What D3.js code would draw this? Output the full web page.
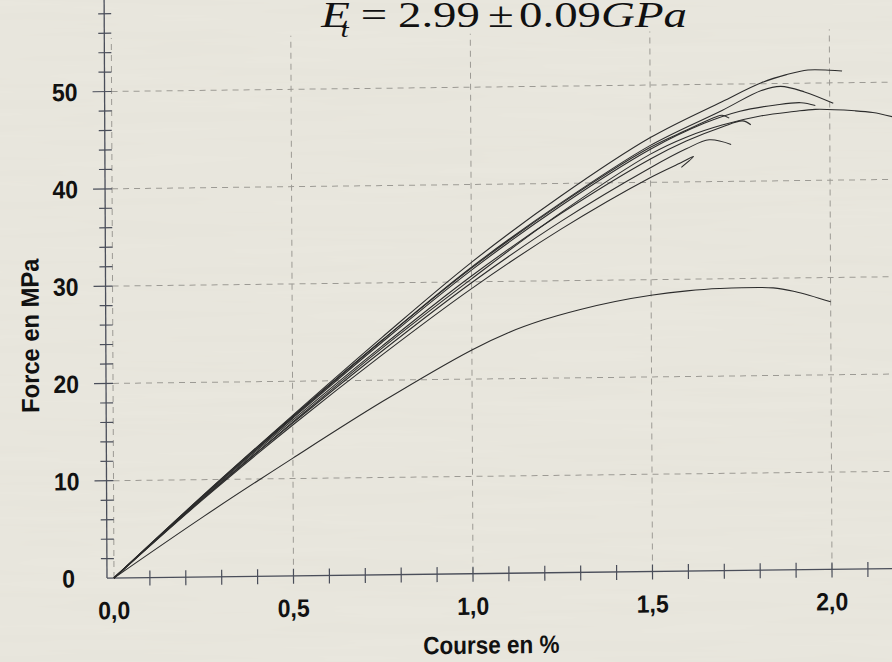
<!DOCTYPE html>
<html>
<head>
<meta charset="utf-8">
<script src="https://cdn.jsdelivr.net/npm/d3@7/dist/d3.min.js"></script>
<style>
  html, body { margin: 0; padding: 0; background: #e8e6dc; }
  svg { display: block; }
  .lbl { font-family: "Liberation Sans", Arial, sans-serif; font-weight: bold; fill: #111; }
</style>
</head>
<body>
<svg id="chart" width="892" height="662"></svg>
<script>
// Tensile test curves: stress (MPa) against strain (%), one array per specimen
const curveA = [[0,0],[0.25,8.4],[0.5,16.5],[0.75,24.4],[1.0,32.0],[1.25,38.7],[1.5,44.6],[1.7,48.2],[1.81,50.1],[1.88,50.9],[1.94,51.35],[2.0,51.3],[2.035,51.2]];
const curveB = [[0,0],[0.25,8.3],[0.5,16.3],[0.75,24.1],[1.0,31.5],[1.25,38.0],[1.5,43.8],[1.7,47.3],[1.81,49.3],[1.864,49.7],[1.93,49.1],[2.01,47.9]];
const curveC = [[0,0],[0.25,8.3],[0.5,16.2],[0.75,23.9],[1.0,31.2],[1.25,37.7],[1.5,43.4],[1.65,46.0],[1.75,47.2],[1.85,47.8],[1.92,48.0],[1.96,47.7]];
const curveD = [[0,0],[0.25,8.1],[0.5,15.8],[0.75,23.3],[1.0,30.3],[1.25,37.0],[1.5,42.9],[1.6,44.6],[1.7,45.8],[1.81,46.7],[1.9,47.1],[1.96,47.3],[2.07,47.1],[2.12,46.9],[2.18,46.4]];
const curveE = [[0,0],[0.25,8.4],[0.5,16.4],[0.75,24.1],[1.0,31.4],[1.25,37.9],[1.5,43.6],[1.6,45.3],[1.68,46.6],[1.70,46.8],[1.72,46.5]];
const curveF = [[0,0],[0.25,8.2],[0.5,16.0],[0.75,23.5],[1.0,30.6],[1.25,36.9],[1.5,42.4],[1.6,44.2],[1.7,45.6],[1.757,46.2],[1.78,45.8]];
const curveG = [[0,0],[0.25,8.1],[0.5,15.7],[0.75,23.0],[1.0,29.9],[1.25,36.1],[1.5,41.5],[1.6,43.4],[1.664,44.3],[1.725,43.8]];
const curveH = [[0,0],[0.25,8.0],[0.5,15.5],[0.75,22.6],[1.0,29.3],[1.25,35.3],[1.5,40.5],[1.586,42.0],[1.62,42.6],[1.586,41.5]];
const curveI = [[0,0],[0.25,6.2],[0.5,12.1],[0.75,17.8],[1.0,23.0],[1.1,24.7],[1.2,26.0],[1.3,27.0],[1.4,27.8],[1.5,28.4],[1.6,28.8],[1.69,29.0],[1.84,29.0],[1.9,28.6],[2.0,27.5]];
const specimens = [curveA, curveB, curveC, curveD, curveE, curveF, curveG, curveH, curveI];

// Axis ticks and labels
const xMinorTicks = d3.range(0, 2.15, 0.1);
const xLabelTicks = [0, 0.5, 1.0, 1.5, 2.0];
const yMinorTicks = d3.range(0, 60, 2);
const yLabelTicks = [0, 10, 20, 30, 40, 50];

const W = 892, H = 662;
const svg = d3.select("#chart");

// paper background with faint horizontal fibres
const defs = svg.append("defs");
const f = defs.append("filter").attr("id", "paper").attr("x", 0).attr("y", 0).attr("width", "100%").attr("height", "100%");
f.append("feTurbulence").attr("type", "fractalNoise").attr("baseFrequency", "0.004 0.09").attr("numOctaves", 3).attr("seed", 7).attr("result", "n");
f.append("feColorMatrix").attr("in", "n").attr("type", "matrix")
  .attr("values", "0 0 0 0 0.55  0 0 0 0 0.53  0 0 0 0 0.47  0 0 0 0.10 -0.02");
svg.append("rect").attr("width", W).attr("height", H).attr("fill", "#e9e7de");
svg.append("rect").attr("width", W).attr("height", H).attr("filter", "url(#paper)");

const x = d3.scaleLinear().domain([0, 2.0]).range([114, 832]);
const y = d3.scaleLinear().domain([0, 50]).range([578, 91.5]);

// the printed sheet sits very slightly askew
const ox = x(0), oy = y(0);
const g = svg.append("g")
  .attr("transform", `translate(${ox},${oy}) matrix(1,-0.012,0.005,1,0,0) translate(${-ox},${-oy})`);

// dashed grid
const gridColor = "#9c9a94";
g.append("g").selectAll("line").data(xLabelTicks).join("line")
  .attr("x1", d => x(d)).attr("x2", d => x(d))
  .attr("y1", y(0)).attr("y2", y(55.5))
  .attr("stroke", gridColor).attr("stroke-width", 1).attr("stroke-dasharray", "6,5");
g.append("g").selectAll("line").data(yLabelTicks.filter(d => d > 0)).join("line")
  .attr("x1", x(0)).attr("x2", x(2.25))
  .attr("y1", d => y(d)).attr("y2", d => y(d))
  .attr("stroke", gridColor).attr("stroke-width", 1).attr("stroke-dasharray", "6,5");

// axes
const axisColor = "#4a4e5a";
const yAxisX = x(0) - 7;
g.append("line").attr("x1", yAxisX).attr("x2", yAxisX).attr("y1", y(0)).attr("y2", y(62))
  .attr("stroke", axisColor).attr("stroke-width", 1.3);
g.append("line").attr("x1", yAxisX).attr("x2", x(2.3)).attr("y1", y(0)).attr("y2", y(0))
  .attr("stroke", axisColor).attr("stroke-width", 1.3);

g.append("g").selectAll("line").data(yMinorTicks.filter(d => d > 0)).join("line")
  .attr("x1", d => yLabelTicks.includes(d) ? yAxisX - 12 : yAxisX - 6)
  .attr("x2", yAxisX + 7)
  .attr("y1", d => y(d)).attr("y2", d => y(d))
  .attr("stroke", axisColor).attr("stroke-width", 1.2);
g.append("g").selectAll("line").data(xMinorTicks.filter(d => d > 0.05)).join("line")
  .attr("x1", d => x(d)).attr("x2", d => x(d))
  .attr("y1", d => y(0) - 7).attr("y2", d => y(0) + 8)
  .attr("stroke", axisColor).attr("stroke-width", 1.2);

// tick labels
const fmtX = d3.format(".1f");
g.append("g").selectAll("text").data(xLabelTicks).join("text")
  .attr("class", "lbl").attr("font-size", 25)
  .attr("text-anchor", "middle")
  .attr("transform", d => `translate(${x(d)},${y(0) + 41}) scale(0.92,1)`)
  .text(d => fmtX(d).replace(".", ","));
g.append("g").selectAll("text").data(yLabelTicks).join("text")
  .attr("class", "lbl").attr("font-size", 25)
  .attr("text-anchor", "end")
  .attr("transform", d => `translate(${d === 0 ? 75 : 80},${y(d) + 9}) scale(0.92,1)`)
  .text(d => d);

// axis titles
g.append("text").attr("class", "lbl").attr("font-size", 25)
  .attr("text-anchor", "middle")
  .attr("transform", `translate(${(x(0) + x(2.0)) / 2 + 18},${y(0) + 80}) scale(0.9,1)`)
  .text("Course en %");
g.append("text").attr("class", "lbl").attr("font-size", 25)
  .attr("text-anchor", "middle")
  .attr("transform", `translate(40,${y(25)}) rotate(-90) scale(0.95,1)`)
  .text("Force en MPa");

// specimen curves
const line = d3.line().x(d => x(d[0])).y(d => y(d[1])).curve(d3.curveCatmullRom.alpha(0.5));
g.append("g").selectAll("path").data(specimens).join("path")
  .attr("d", line)
  .attr("fill", "none").attr("stroke", "#2c2c2c").attr("stroke-width", 1.1)
  .attr("stroke-linejoin", "round");

// modulus annotation
const title = svg.append("text")
  .attr("font-family", "'Liberation Serif', 'Times New Roman', serif")
  .attr("font-size", 35).attr("fill", "#111");
title.append("tspan").attr("font-style", "italic").text("E");
title.append("tspan").attr("font-style", "italic").attr("font-size", 22).attr("dx", -7).attr("dy", 10).text("t");
title.append("tspan").attr("dy", -10).attr("dx", 9).text("=");
title.append("tspan").attr("dx", 8).text("2.99");
title.append("tspan").attr("dx", 6).text("±");
title.append("tspan").attr("dx", 4).text("0.09");
title.append("tspan").attr("font-style", "italic").text("GPa");
const bb = title.node().getBBox();
title.attr("transform", `translate(320,27) scale(${367 / bb.width},1) translate(${-bb.x},0)`);
</script>
</body>
</html>
